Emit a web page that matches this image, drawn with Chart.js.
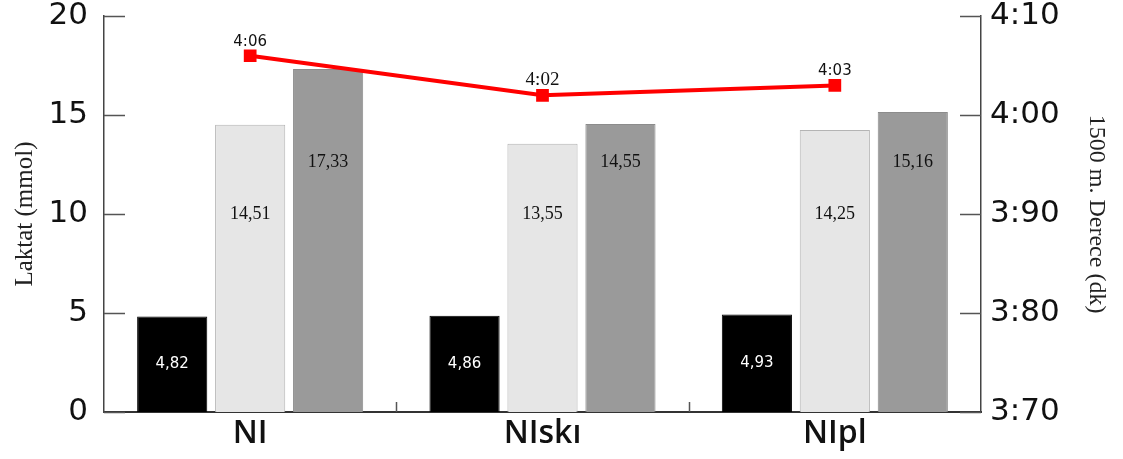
<!DOCTYPE html>
<html>
<head>
<meta charset="utf-8">
<script src="https://cdn.jsdelivr.net/npm/chart.js@4"></script>
<style>
  html, body { margin: 0; padding: 0; background: #ffffff; }
  #wrap { width: 1123px; height: 459px; }
</style>
</head>
<body>
<div id="wrap"><canvas id="chart" width="1123" height="459"></canvas></div>
<script>
// Groups and measurements
const categories = ['NI', 'NIskı', 'NIpl'];
const restLactate = [4.82, 4.86, 4.93];      // black bars
const lactateAfter = [14.51, 13.55, 14.25];  // light grey bars
const lactatePeak = [17.33, 14.55, 15.16];   // dark grey bars
const raceTime = [4.06, 4.02, 4.03];         // 1500 m time (red line)

// Axis tick labels
const lactateTicks = [0, 5, 10, 15, 20];
const timeTickLabels = ['3:70', '3:80', '3:90', '4:00', '4:10'];

const commaNumber = v => v.toFixed(2).replace('.', ',');
const colonNumber = v => v.toFixed(2).replace('.', ':');

// Inward tick marks on both value axes and short separators between groups
const axisMarks = {
  id: 'axisMarks',
  afterDatasetsDraw(chart) {
    const { ctx, chartArea, scales } = chart;
    ctx.save();
    ctx.strokeStyle = '#555555';
    ctx.lineWidth = 1.5;
    ctx.beginPath();
    scales.y.ticks.forEach(t => {
      const py = Math.round(scales.y.getPixelForValue(t.value)) + 0.5;
      ctx.moveTo(chartArea.left, py);
      ctx.lineTo(chartArea.left + 21, py);
    });
    scales.y2.ticks.forEach(t => {
      const py = Math.round(scales.y2.getPixelForValue(t.value)) + 0.5;
      ctx.moveTo(chartArea.right, py);
      ctx.lineTo(chartArea.right - 21, py);
    });
    for (let i = 0; i < categories.length - 1; i++) {
      const px = Math.round((scales.x.getPixelForValue(i) + scales.x.getPixelForValue(i + 1)) / 2) + 0.5;
      ctx.moveTo(px, chartArea.bottom);
      ctx.lineTo(px, chartArea.bottom - 10);
    }
    ctx.stroke();
    ctx.restore();
  }
};

// Value labels inside the bars and above the line points
const valueLabels = {
  id: 'valueLabels',
  afterDatasetsDraw(chart) {
    const { ctx } = chart;
    const yScale = chart.scales.y;
    ctx.save();
    ctx.textAlign = 'center';
    chart.data.datasets.forEach((ds, di) => {
      const meta = chart.getDatasetMeta(di);
      meta.data.forEach((el, i) => {
        const v = ds.data[i];
        if (ds.type === 'line') {
          ctx.font = ds.labelFonts[i];
          ctx.fillStyle = '#111111';
          ctx.textBaseline = 'alphabetic';
          ctx.fillText(colonNumber(v), el.x, el.y - 10);
        } else {
          const ly = ds.labelAt === 'middle'
            ? (el.y + el.base) / 2
            : yScale.getPixelForValue(ds.labelAt);
          ctx.font = ds.labelFont;
          ctx.fillStyle = ds.labelColor;
          ctx.textBaseline = 'middle';
          ctx.fillText(commaNumber(v), el.x, ly);
        }
      });
    });
    ctx.restore();
  }
};

const barCommon = {
  type: 'bar',
  yAxisID: 'y',
  borderWidth: 1,
  barPercentage: 0.9,
  categoryPercentage: 0.8,
  order: 2
};

new Chart(document.getElementById('chart'), {
  data: {
    labels: categories,
    datasets: [
      {
        ...barCommon,
        label: 'Dinlenik',
        data: restLactate,
        backgroundColor: '#000000',
        borderColor: '#000000',
        labelAt: 'middle',
        labelFont: '15px "DejaVu Sans"',
        labelColor: '#ffffff'
      },
      {
        ...barCommon,
        label: 'Yarış sonrası',
        data: lactateAfter,
        backgroundColor: '#e6e6e6',
        borderColor: '#b4b4b4',
        labelAt: 10,
        labelFont: '18px "Liberation Serif"',
        labelColor: '#111111'
      },
      {
        ...barCommon,
        label: 'Maksimum',
        data: lactatePeak,
        backgroundColor: '#9a9a9a',
        borderColor: '#8c8c8c',
        labelAt: 12.6,
        labelFont: '18px "Liberation Serif"',
        labelColor: '#111111'
      },
      {
        type: 'line',
        label: '1500 m. Derece',
        data: raceTime,
        yAxisID: 'y2',
        borderColor: '#ff0000',
        backgroundColor: '#ff0000',
        borderWidth: 4,
        pointStyle: 'rect',
        pointRadius: 9,
        pointBorderWidth: 0,
        tension: 0,
        order: 1,
        labelFonts: ['15px "DejaVu Sans"', '19px "Liberation Serif"', '15px "DejaVu Sans"']
      }
    ]
  },
  options: {
    responsive: false,
    devicePixelRatio: 1,
    animation: false,
    layout: { padding: { top: 16, left: 0, right: 0, bottom: 0 } },
    plugins: {
      legend: { display: false },
      tooltip: { enabled: false }
    },
    scales: {
      x: {
        grid: { display: false, drawTicks: false },
        border: { display: true, color: '#333333', width: 2 },
        ticks: {
          color: '#111111',
          padding: 6,
          font: { family: 'Open Sans', size: 32, weight: '600', lineHeight: 1 }
        },
        afterFit: s => { s.height = 47; }
      },
      y: {
        position: 'left',
        min: 0,
        max: 20,
        afterBuildTicks: s => { s.ticks = lactateTicks.map(v => ({ value: v })); },
        grid: { display: false, drawTicks: false },
        border: { display: true, color: '#444444', width: 1.5 },
        ticks: {
          color: '#111111',
          padding: 16,
          font: { family: 'DejaVu Sans', size: 31, lineHeight: 0.01 },
          callback: v => String(v)
        },
        title: {
          display: true,
          text: 'Laktat (mmol)',
          color: '#222222',
          font: { family: 'Liberation Serif', size: 25 },
          padding: { top: 10, bottom: 0 }
        },
        afterFit: s => { s.width = 104; }
      },
      y2: {
        position: 'right',
        min: 3.7,
        max: 4.1,
        afterBuildTicks: s => { s.ticks = timeTickLabels.map((_, i) => ({ value: 3.7 + i * 0.1 })); },
        grid: { display: false, drawTicks: false },
        border: { display: true, color: '#444444', width: 1.5 },
        ticks: {
          color: '#111111',
          padding: 9,
          font: { family: 'DejaVu Sans', size: 31, lineHeight: 0.01 },
          callback: (v, i) => timeTickLabels[i]
        },
        title: {
          display: true,
          text: '1500 m. Derece (dk)',
          color: '#222222',
          font: { family: 'Liberation Serif', size: 24 },
          padding: { top: 12, bottom: 0 }
        },
        afterFit: s => { s.width = 142; }
      }
    }
  },
  plugins: [axisMarks, valueLabels]
});
</script>
</body>
</html>
